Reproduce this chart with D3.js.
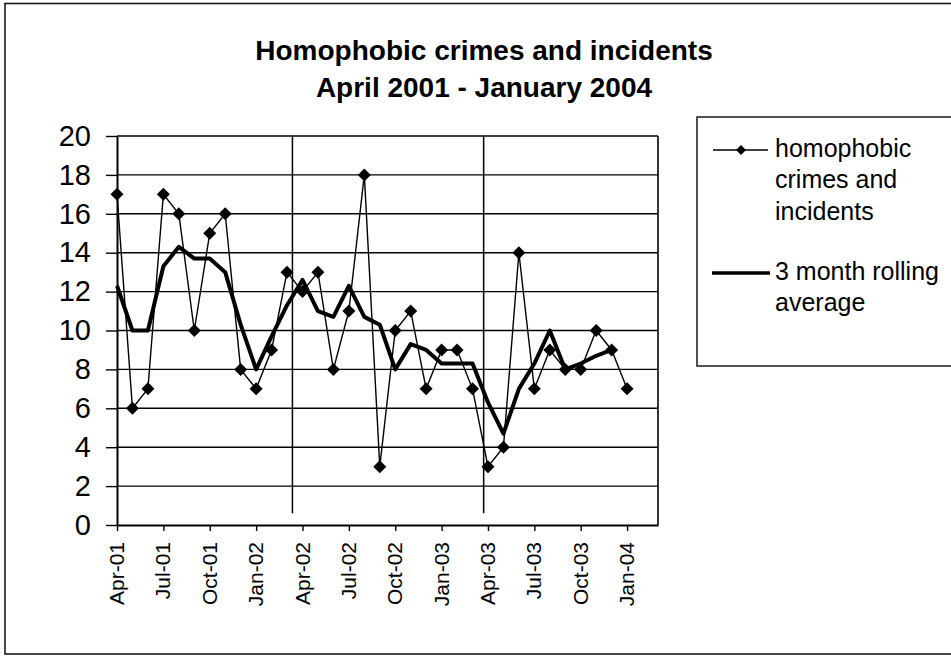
<!DOCTYPE html>
<html><head><meta charset="utf-8">
<script src="https://cdn.jsdelivr.net/npm/d3@7"></script>
<style>
body{margin:0;background:#fff;}
svg{display:block;}
text{font-family:"Liberation Sans",Arial,sans-serif;fill:#000;}
</style>
</head><body>
<svg id="c" width="951" height="656"></svg>
<script>
// ---- data ----
const months = ["Apr-01","May-01","Jun-01","Jul-01","Aug-01","Sep-01","Oct-01","Nov-01","Dec-01",
  "Jan-02","Feb-02","Mar-02","Apr-02","May-02","Jun-02","Jul-02","Aug-02","Sep-02","Oct-02","Nov-02","Dec-02",
  "Jan-03","Feb-03","Mar-03","Apr-03","May-03","Jun-03","Jul-03","Aug-03","Sep-03","Oct-03","Nov-03","Dec-03",
  "Jan-04"];
const counts = [17,6,7,17,16,10,15,16,8,7,9,13,12,13,8,11,18,3,10,11,7,9,9,7,3,4,14,7,9,8,8,10,9,7];
const rolling = [12.3,10,10,13.3,14.3,13.7,13.7,13,10.3,8,9.7,11.3,12.6,11,10.7,12.3,10.7,10.3,8,9.3,9,8.3,8.3,8.3,6.3,4.7,7,8.3,10,8,8.3,8.7,9];
const tickLabels = ["Apr-01","Jul-01","Oct-01","Jan-02","Apr-02","Jul-02","Oct-02","Jan-03","Apr-03","Jul-03","Oct-03","Jan-04"];
const yTicks = [0,2,4,6,8,10,12,14,16,18,20];
const dividers = [11.35, 23.72];   // month positions of the two vertical marker lines
const dividerLow = 0.6;            // value where the marker lines stop
const titleLines = ["Homophobic crimes and incidents","April 2001 - January 2004"];
const seriesNames = [["homophobic","crimes and","incidents"],["3 month rolling","average"]];

// ---- drawing ----
const svg = d3.select("#c");
svg.append("rect").attr("x",5).attr("y",3.5).attr("width",952).attr("height",650.5)
  .attr("fill","#fff").attr("stroke","#1a1a1a").attr("stroke-width",1.6);

const m = {left:117, right:658, top:136, bottom:525};
const x = d3.scaleLinear().domain([0, months.length + 1]).range([m.left, m.right]);
const y = d3.scaleLinear().domain([0, 20]).range([m.bottom, m.top]);

// title
svg.selectAll("text.title").data(titleLines).join("text")
  .attr("class","title").attr("x",484).attr("y",(d,i)=>60 + i*37)
  .attr("text-anchor","middle").style("font-size","28px").style("font-weight","bold")
  .text(d=>d);

// gridlines
svg.append("g").selectAll("line").data(yTicks.filter(v=>v>0)).join("line")
  .attr("x1",m.left).attr("x2",m.right).attr("y1",d=>y(d)).attr("y2",d=>y(d))
  .attr("stroke","#000").attr("stroke-width",1.4);
// right border of plot
svg.append("line").attr("x1",m.right).attr("x2",m.right).attr("y1",y(20)).attr("y2",y(0))
  .attr("stroke","#000").attr("stroke-width",1.6);

// divider lines
svg.append("g").selectAll("line").data(dividers).join("line")
  .attr("x1",d=>x(d)).attr("x2",d=>x(d)).attr("y1",y(20)).attr("y2",y(dividerLow))
  .attr("stroke","#000").attr("stroke-width",1.5);

// y axis
const ya = svg.append("g").attr("transform",`translate(${m.left},0)`)
  .call(d3.axisLeft(y).tickValues(yTicks).tickSize(11).tickSizeOuter(0).tickPadding(15).tickFormat(d3.format("d")));
ya.select(".domain").attr("stroke","#000").attr("stroke-width",2);
ya.selectAll(".tick line").attr("stroke","#000").attr("stroke-width",1.4);
ya.selectAll("text").style("font-size","29px").style("font-family",'"Liberation Sans",Arial,sans-serif').attr("fill","#000");

// x axis
const xa = svg.append("g").attr("transform",`translate(0,${m.bottom})`)
  .call(d3.axisBottom(x).tickValues(tickLabels.map(l=>months.indexOf(l)))
    .tickFormat(i=>months[i]).tickSize(6).tickSizeOuter(0));
xa.select(".domain").attr("stroke","#000").attr("stroke-width",2.2);
xa.selectAll(".tick line").attr("stroke","#000").attr("stroke-width",1.4);
xa.selectAll("text").attr("transform","rotate(-90)").attr("x",-17).attr("y",-1).attr("dy","0.36em")
  .style("text-anchor","end").style("font-size","21px")
  .style("font-family",'"Liberation Sans",Arial,sans-serif').attr("fill","#000");

// rolling average line
svg.append("path").datum(rolling)
  .attr("d", d3.line().x((d,i)=>x(i)).y(d=>y(d)))
  .attr("fill","none").attr("stroke","#000").attr("stroke-width",4).attr("stroke-linejoin","round");

// counts line + markers
svg.append("path").datum(counts)
  .attr("d", d3.line().x((d,i)=>x(i)).y(d=>y(d)))
  .attr("fill","none").attr("stroke","#000").attr("stroke-width",1.4);
const diamond = r => `M0,${-r}L${r},0L0,${r}L${-r},0Z`;
svg.append("g").selectAll("path").data(counts).join("path")
  .attr("transform",(d,i)=>`translate(${x(i)},${y(d)})`)
  .attr("d",diamond(6.5)).attr("fill","#000");

// legend
const lg = svg.append("g");
lg.append("rect").attr("x",697).attr("y",117).attr("width",270).attr("height",249)
  .attr("fill","#fff").attr("stroke","#1a1a1a").attr("stroke-width",1.5);
lg.append("line").attr("x1",713).attr("x2",768).attr("y1",150).attr("y2",150)
  .attr("stroke","#000").attr("stroke-width",1.4);
lg.append("path").attr("transform","translate(741,150)").attr("d",diamond(5)).attr("fill","#000");
lg.append("line").attr("x1",712).attr("x2",770).attr("y1",273).attr("y2",273)
  .attr("stroke","#000").attr("stroke-width",3.6);
const rowY = [[148,179.5,211],[271,302.5]];
seriesNames.forEach((lines,k)=>{
  lg.selectAll(null).data(lines).join("text")
    .attr("x",775).attr("y",(d,i)=>rowY[k][i]).attr("dy","0.35em")
    .style("font-size","25px").text(d=>d);
});
</script>
</body></html>
